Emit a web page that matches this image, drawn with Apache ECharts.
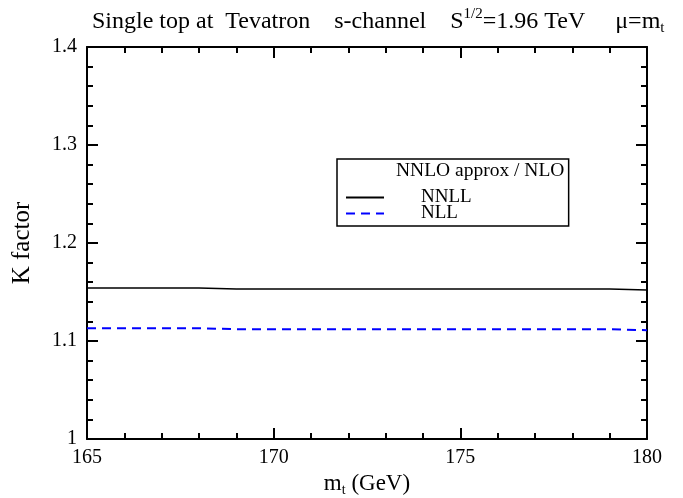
<!DOCTYPE html>
<html>
<head>
<meta charset="utf-8">
<script src="https://cdn.jsdelivr.net/npm/echarts@6/dist/echarts.min.js"></script>
<style>html,body{margin:0;padding:0;background:#fff}#c{width:683px;height:498px}</style>
</head>
<body>
<div id="c"></div>
<script>
const mt = [165,166,167,168,169,170,171,172,173,174,175,176,177,178,179,180];
const nnll = [1.154,1.154,1.154,1.154,1.153,1.153,1.153,1.153,1.153,1.153,1.153,1.153,1.153,1.153,1.153,1.152];
const nll = [1.113,1.113,1.113,1.113,1.112,1.112,1.112,1.112,1.112,1.112,1.112,1.112,1.112,1.112,1.112,1.111];
const xTicks = [165,170,175,180];
const yTicks = [1,1.1,1.2,1.3,1.4];

const F = 'Liberation Serif, Times New Roman, serif';
const chart = echarts.init(document.getElementById('c'));
const axisCommon = {
  axisLine:{show:true,onZero:false,lineStyle:{color:'#000',width:2}},
  axisTick:{show:true,inside:true,length:11,lineStyle:{color:'#000',width:2}},
  minorTick:{show:true,splitNumber:5,length:6,lineStyle:{color:'#000',width:2}},
  splitLine:{show:false}
};
chart.setOption({
  animation:false,
  backgroundColor:'#fff',
  title:{
    text:'Single top at  Tevatron    s-channel    S{sup|1/2}=1.96 TeV     μ=m{sub|t}',
    left:87, top:2,
    textStyle:{fontFamily:F,fontSize:24,fontWeight:'normal',color:'#000',
      rich:{sup:{fontFamily:F,fontSize:15,color:'#000',padding:[0,0,14,0]},
            sub:{fontFamily:F,fontSize:15,color:'#000',padding:[14,0,0,0]}}}
  },
  grid:{left:87,right:36,top:47,bottom:59,containLabel:false,outerBoundsMode:'none'},
  legend:{
    left:337, top:159, orient:'vertical',
    padding:[29,97,3,8], itemGap:-3, itemWidth:38, itemHeight:14,
    borderColor:'#000', borderWidth:1.5,
    itemStyle:{opacity:0},
    textStyle:{fontFamily:F,fontSize:19,color:'#000',padding:[0,0,0,32]},
    data:['NNLL','NLL']
  },
  graphic:[{type:'text',left:396,top:161,style:{text:'NNLO approx / NLO',font:'19.5px '+F,fill:'#000'}}],
  xAxis:[
    Object.assign({type:'value',min:165,max:180,interval:5,position:'bottom',
      name:'m{sub|t} (GeV)',nameLocation:'middle',nameGap:31,
      nameTextStyle:{fontFamily:F,fontSize:23,color:'#000',rich:{sub:{fontFamily:F,fontSize:14,color:'#000',padding:[12,0,0,0]}}},
      axisLabel:{fontFamily:F,fontSize:20,color:'#000',margin:9,
        formatter:v=>xTicks.includes(v)?String(v):''}},axisCommon),
    Object.assign({type:'value',min:165,max:180,interval:5,position:'top',axisLabel:{show:false}},axisCommon)
  ],
  yAxis:[
    Object.assign({type:'value',min:1,max:1.4,interval:0.1,position:'left',
      name:'K factor',nameLocation:'middle',nameGap:52,nameRotate:90,
      nameTextStyle:{fontFamily:F,fontSize:25,color:'#000'},
      axisLabel:{fontFamily:F,fontSize:20,color:'#000',margin:10,
        formatter:v=>{const t=yTicks.find(a=>Math.abs(a-v)<1e-9);return t===undefined?'':String(t);}}},axisCommon),
    Object.assign({type:'value',min:1,max:1.4,interval:0.1,position:'right',axisLabel:{show:false}},axisCommon)
  ],
  series:[
    {name:'NNLL',type:'line',data:mt.map((x,i)=>[x,nnll[i]]),showSymbol:false,symbol:'none',
      lineStyle:{color:'#000',width:1.5},itemStyle:{color:'#000'}},
    {name:'NLL',type:'line',data:mt.map((x,i)=>[x,nll[i]]),showSymbol:false,symbol:'none',
      lineStyle:{color:'#0000ff',width:2,type:[9,6]},itemStyle:{color:'#0000ff'}}
  ]
});
</script>
</body>
</html>
